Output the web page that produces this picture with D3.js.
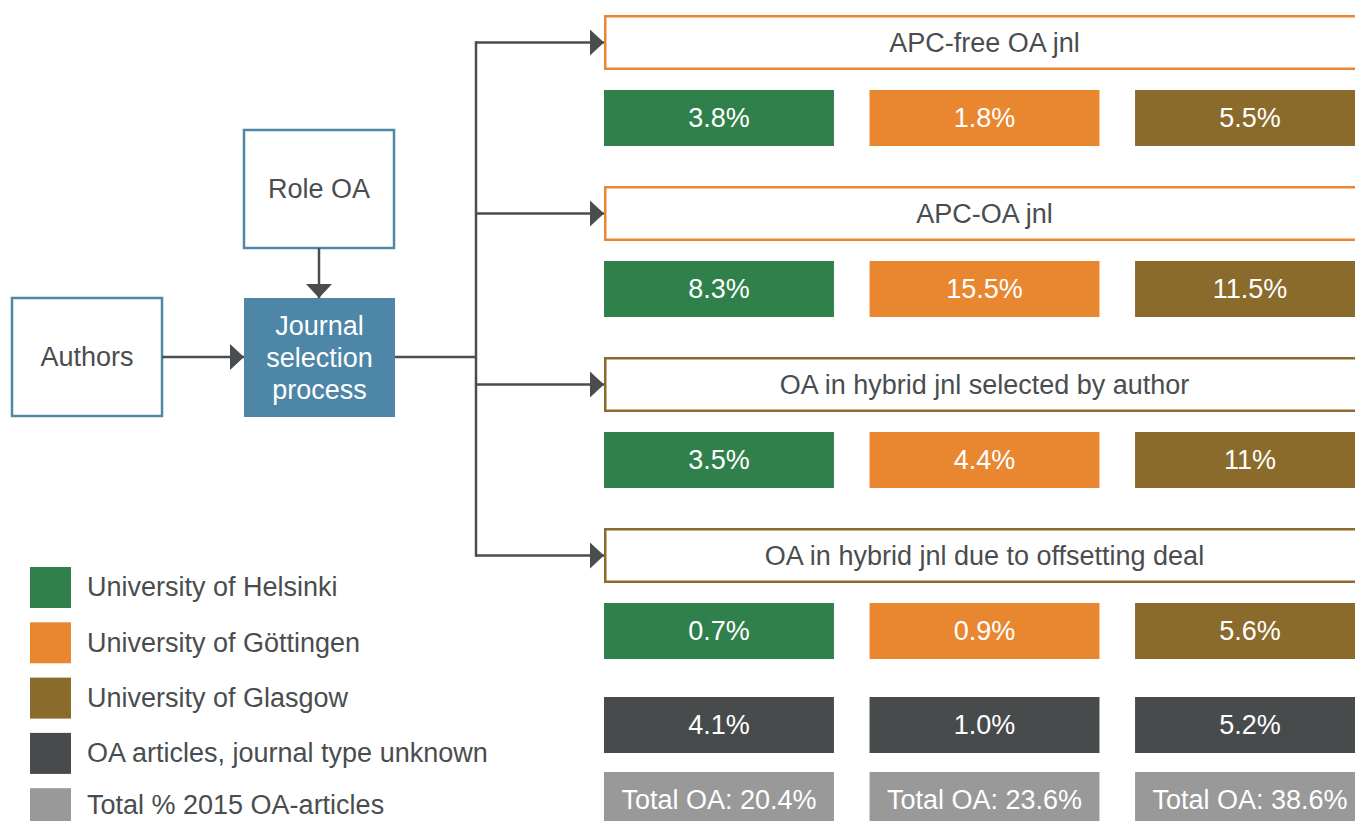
<!DOCTYPE html>
<html>
<head>
<meta charset="utf-8">
<script src="https://cdn.jsdelivr.net/npm/d3@7/dist/d3.min.js"></script>
<style>
  html, body { margin: 0; padding: 0; background: #ffffff; overflow: hidden; }
  svg { display: block; }
  text { font-family: "Liberation Sans", Arial, Helvetica, sans-serif; }
</style>
</head>
<body>
<svg id="chart" width="1355" height="821"></svg>
<script>
// ---------------- DATA ----------------
const journalTypes = [
  "APC-free OA jnl",
  "APC-OA jnl",
  "OA in hybrid jnl selected by author",
  "OA in hybrid jnl due to offsetting deal"
];
const universities = ["University of Helsinki", "University of Göttingen", "University of Glasgow"];
const helsinkiValues = ["3.8%", "8.3%", "3.5%", "0.7%"];
const gottingenValues = ["1.8%", "15.5%", "4.4%", "0.9%"];
const glasgowValues = ["5.5%", "11.5%", "11%", "5.6%"];
const unknownValues = ["4.1%", "1.0%", "5.2%"];
const totalValues = ["Total OA: 20.4%", "Total OA: 23.6%", "Total OA: 38.6%"];
const legendLabels = [
  "University of Helsinki",
  "University of Göttingen",
  "University of Glasgow",
  "OA articles, journal type unknown",
  "Total % 2015 OA-articles"
];
const flowNodes = ["Authors", "Role OA", "Journal selection process"];

// ---------------- STYLE ----------------
const C = {
  green: "#30804c", orange: "#e98731", brown: "#8a6b2b",
  dark: "#484b4c", gray: "#999999",
  blue: "#4f87a8", blueFill: "#4d86a6",
  line: "#4a4d4f", text: "#4a4d4f"
};
const uniColors = [C.green, C.orange, C.brown];
const headerStroke = [C.orange, C.orange, C.brown, C.brown];
const legendColors = [C.green, C.orange, C.brown, C.dark, C.gray];
const FS = 27;

const svg = d3.select("#chart");

// ---------------- SCALES ----------------
const xCol = d3.scaleBand().domain(d3.range(universities.length))
  .range([604, 1365]).paddingInner(0.134).paddingOuter(0);
const yHeader = d3.scaleLinear().domain([0, 3]).range([15, 528]);
const headerH = 55, barH = 56, barOffset = 75;
const yUnknown = 697, yTotal = 772;

// ---------------- ARROW MARKER ----------------
const defs = svg.append("defs");
defs.append("marker").attr("id", "arrow")
  .attr("viewBox", "0 0 14 26").attr("refX", 14).attr("refY", 13)
  .attr("markerWidth", 14).attr("markerHeight", 26).attr("markerUnits", "userSpaceOnUse")
  .attr("orient", "auto")
  .append("path").attr("d", "M0,0 L14,13 L0,26 Z").attr("fill", C.line);

// ---------------- FLOW NODES ----------------
const nodes = [
  { label: [flowNodes[0]], x: 12, y: 298, w: 150, h: 118, fill: "#fff", color: C.text },
  { label: [flowNodes[1]], x: 244, y: 130, w: 150, h: 118, fill: "#fff", color: C.text },
  { label: ["Journal", "selection", "process"], x: 244, y: 298, w: 151, h: 119, fill: C.blueFill, color: "#ffffff" }
];
const ng = svg.append("g");
nodes.forEach((n, i) => {
  ng.append("rect").attr("x", n.x).attr("y", n.y).attr("width", n.w).attr("height", n.h)
    .attr("fill", n.fill).attr("stroke", i === 2 ? "none" : C.blue).attr("stroke-width", 2.5);
  const cx = n.x + n.w / 2, cy = n.y + n.h / 2;
  const lh = 32;
  n.label.forEach((t, j) => {
    ng.append("text").attr("x", cx).attr("y", cy + (j - (n.label.length - 1) / 2) * lh)
      .attr("dy", "0.35em").attr("text-anchor", "middle")
      .attr("font-size", FS).attr("fill", n.color).text(t);
  });
});

// connectors
const lines = svg.append("g").attr("stroke", C.line).attr("stroke-width", 2.5).attr("fill", "none");
lines.append("line").attr("x1", 319).attr("y1", 248).attr("x2", 319).attr("y2", 298).attr("marker-end", "url(#arrow)");
lines.append("line").attr("x1", 162).attr("y1", 357).attr("x2", 244).attr("y2", 357).attr("marker-end", "url(#arrow)");
lines.append("line").attr("x1", 395).attr("y1", 357).attr("x2", 476).attr("y2", 357);
const branchY = journalTypes.map((d, i) => yHeader(i) + headerH / 2);
lines.append("line").attr("x1", 476).attr("y1", branchY[0] - 1.25).attr("x2", 476).attr("y2", branchY[3] + 1.25);
branchY.forEach(y => {
  lines.append("line").attr("x1", 476).attr("y1", y).attr("x2", 604).attr("y2", y).attr("marker-end", "url(#arrow)");
});

// ---------------- HEADERS ----------------
const hg = svg.append("g");
journalTypes.forEach((t, i) => {
  const y = yHeader(i);
  hg.append("rect").attr("x", 605.25).attr("y", y + 1.25).attr("width", 760).attr("height", headerH - 2.5)
    .attr("fill", "#fff").attr("stroke", headerStroke[i]).attr("stroke-width", 2.5);
  hg.append("text").attr("x", 984.5).attr("y", y + headerH / 2).attr("dy", "0.35em")
    .attr("text-anchor", "middle").attr("font-size", FS).attr("fill", C.text).text(t);
});

// ---------------- VALUE BARS ----------------
const uniValues = [helsinkiValues, gottingenValues, glasgowValues];
const bg = svg.append("g");
function bar(x, y, fill, label) {
  bg.append("rect").attr("x", x).attr("y", y).attr("width", xCol.bandwidth()).attr("height", barH).attr("fill", fill);
  bg.append("text").attr("x", x + xCol.bandwidth() / 2).attr("y", y + barH / 2).attr("dy", "0.35em")
    .attr("text-anchor", "middle").attr("font-size", FS).attr("fill", "#ffffff").text(label);
}
journalTypes.forEach((t, i) => {
  universities.forEach((u, k) => bar(xCol(k), yHeader(i) + barOffset, uniColors[k], uniValues[k][i]));
});
unknownValues.forEach((v, k) => bar(xCol(k), yUnknown, C.dark, v));
totalValues.forEach((v, k) => bar(xCol(k), yTotal, C.gray, v));

// ---------------- LEGEND ----------------
const lg = svg.append("g");
legendLabels.forEach((l, i) => {
  const y = 567 + i * 55.3;
  lg.append("rect").attr("x", 30).attr("y", y).attr("width", 41).attr("height", 41).attr("fill", legendColors[i]);
  const ty = Math.min(y + 20, 805);
  lg.append("text").attr("x", 87).attr("y", ty).attr("dy", "0.35em")
    .attr("font-size", FS).attr("fill", C.text).text(l);
});
</script>
</body>
</html>
